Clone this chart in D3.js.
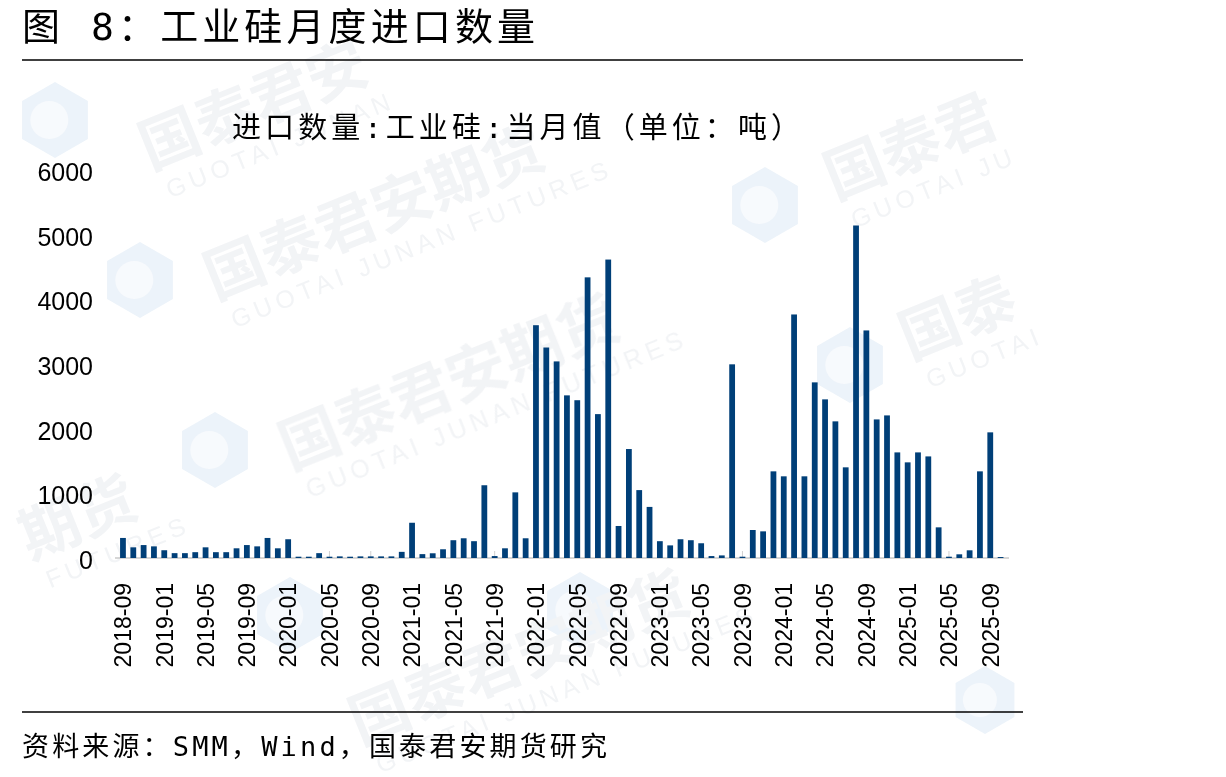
<!DOCTYPE html>
<html>
<head>
<meta charset="utf-8">
<script src="https://cdn.jsdelivr.net/npm/d3@7"></script>
<style>
  body { margin: 0; background: #fff; }
  svg { display: block; }
</style>
</head>
<body>
<svg></svg>
<script>
var W = 1226, H = 777;

// 月份（2018-09 ～ 2025-10）
var months = [
  "2018-09","2018-10","2018-11","2018-12",
  "2019-01","2019-02","2019-03","2019-04","2019-05","2019-06","2019-07","2019-08","2019-09","2019-10","2019-11","2019-12",
  "2020-01","2020-02","2020-03","2020-04","2020-05","2020-06","2020-07","2020-08","2020-09","2020-10","2020-11","2020-12",
  "2021-01","2021-02","2021-03","2021-04","2021-05","2021-06","2021-07","2021-08","2021-09","2021-10","2021-11","2021-12",
  "2022-01","2022-02","2022-03","2022-04","2022-05","2022-06","2022-07","2022-08","2022-09","2022-10","2022-11","2022-12",
  "2023-01","2023-02","2023-03","2023-04","2023-05","2023-06","2023-07","2023-08","2023-09","2023-10","2023-11","2023-12",
  "2024-01","2024-02","2024-03","2024-04","2024-05","2024-06","2024-07","2024-08","2024-09","2024-10","2024-11","2024-12",
  "2025-01","2025-02","2025-03","2025-04","2025-05","2025-06","2025-07","2025-08","2025-09","2025-10"
];

// 进口数量：工业硅：当月值（吨）
var imports = [
  310, 165, 200, 180,
  120, 75, 75, 90, 165, 90, 90, 150, 200, 180, 310, 150,
  290, 20, 20, 75, 20, 25, 20, 25, 25, 25, 25, 95,
  545, 60, 73, 135, 275, 305, 260, 1125, 30, 150, 1015, 305,
  3600, 3255, 3040, 2515, 2440, 4340, 2225, 4615, 495, 1685, 1050, 790,
  260, 195, 290, 275, 228, 30, 40, 2995, 20, 433, 412, 1340,
  1263, 3766, 1263, 2716, 2453, 2113, 1402, 5142, 3519, 2143, 2205, 1633,
  1479, 1633, 1571, 474, 20, 57, 119, 1340, 1943, 15
];

var yTicks = [0, 1000, 2000, 3000, 4000, 5000, 6000];

var titleText = "图 8：工业硅月度进口数量";
var chartTitle = "进口数量:工业硅:当月值（单位：吨）";
var sourceText = "资料来源：SMM，Wind，国泰君安期货研究";

var svg = d3.select("svg")
    .attr("width", W)
    .attr("height", H);

svg.append("rect").attr("width", W).attr("height", H).attr("fill", "#fff");

//////////////
// 水印（很淡）
//////////////
var wm = svg.append("g").attr("class", "watermark").attr("opacity", 0.75);

function hexLogo(cx, cy, r) {
  var pts = d3.range(6).map(function(k) {
    var a = Math.PI / 3 * k + Math.PI / 6;
    return [cx + r * Math.cos(a), cy + r * Math.sin(a)];
  });
  wm.append("path")
      .attr("d", d3.line()(pts) + "Z")
      .attr("fill", "#e6eff8");
  wm.append("circle")
      .attr("cx", cx - r * 0.15).attr("cy", cy)
      .attr("r", r * 0.5)
      .attr("fill", "#f5f8fc");
}

function wmText(x, y, cn, en) {
  var g = wm.append("g")
      .attr("transform", "translate(" + x + "," + y + ") rotate(-22)");
  g.append("text")
      .attr("font-family", "Noto Sans CJK SC")
      .attr("font-size", 60)
      .attr("font-weight", 700)
      .attr("fill", "#eef0f3")
      .text(cn);
  g.append("text")
      .attr("y", 34)
      .attr("x", 8)
      .attr("font-family", "Liberation Sans, Arial")
      .attr("font-size", 25)
      .attr("letter-spacing", 5)
      .attr("fill", "#eef0f3")
      .text(en);
}

hexLogo(55, 120, 38);
hexLogo(140, 280, 38);
hexLogo(215, 450, 38);
hexLogo(290, 615, 38);
hexLogo(765, 205, 38);
hexLogo(850, 365, 38);
hexLogo(580, 610, 38);
hexLogo(985, 700, 34);

wmText(150, 170, "国泰君安", "GUOTAI JUNAN");
wmText(215, 300, "国泰君安期货", "GUOTAI JUNAN FUTURES");
wmText(290, 470, "国泰君安期货", "GUOTAI JUNAN FUTURES");
wmText(835, 200, "国泰君", "GUOTAI JU");
wmText(910, 360, "国泰", "GUOTAI");
wmText(30, 560, "期货", "FUTURES");
wmText(360, 745, "国泰君安期货", "GUOTAI JUNAN FUTURES");

//////////////
// 标题
//////////////
var cjk = "DejaVu Sans Mono, Noto Sans CJK SC, sans-serif";

svg.append("text")
    .attr("x", 22).attr("y", 40)
    .attr("font-family", cjk)
    .attr("font-size", 38)
    .attr("textLength", 513)
    .attr("lengthAdjust", "spacing")
    .attr("fill", "#000")
    .text(titleText);

svg.append("line")
    .attr("x1", 22).attr("x2", 1023)
    .attr("y1", 60).attr("y2", 60)
    .attr("stroke", "#000").attr("stroke-width", 1.5);

svg.append("line")
    .attr("x1", 22).attr("x2", 1023)
    .attr("y1", 712).attr("y2", 712)
    .attr("stroke", "#000").attr("stroke-width", 1.5);

svg.append("text")
    .attr("x", 232).attr("y", 138)
    .attr("font-family", cjk)
    .attr("font-size", 29)
    .attr("textLength", 568)
    .attr("lengthAdjust", "spacing")
    .attr("fill", "#000")
    .text(chartTitle);

svg.append("text")
    .attr("x", 22).attr("y", 756)
    .attr("font-family", cjk)
    .attr("font-size", 27)
    .attr("textLength", 585)
    .attr("lengthAdjust", "spacing")
    .attr("fill", "#000")
    .text(sourceText);

//////////////
// 柱状图
//////////////
var x = d3.scaleBand()
    .domain(months)
    .range([117.8, 117.8 + months.length * 10.325])
    .paddingInner(0.44)
    .paddingOuter(0.22);

var y = d3.scaleLinear()
    .domain([0, 6000])
    .range([558, 170]);

var plot = svg.append("g");

// x轴（基线 + 内向刻度）
var xAxis = plot.append("g")
    .attr("transform", "translate(0," + y(0) + ")")
    .call(d3.axisBottom(x)
      .tickValues(months.filter(function(d, i) { return i % 4 === 0; }))
      .tickSizeInner(-7)
      .tickSizeOuter(0));

xAxis.select(".domain")
    .attr("d", "M115,0H1009")
    .attr("stroke", "#c8c8c8")
    .attr("stroke-width", 1.5);
xAxis.selectAll(".tick line").attr("stroke", "#d0d0d0");
xAxis.selectAll(".tick text")
    .attr("transform", "rotate(-90)")
    .attr("x", -25)
    .attr("y", 0)
    .attr("dy", "0.36em")
    .attr("text-anchor", "end")
    .attr("font-family", "Liberation Sans, Arial, sans-serif")
    .attr("font-size", 23)
    .attr("fill", "#000");

plot.selectAll(".bar")
    .data(months)
    .enter().append("rect")
    .attr("class", "bar")
    .attr("x", function(d) { return x(d); })
    .attr("width", x.bandwidth())
    .attr("y", function(d, i) { return y(imports[i]); })
    .attr("height", function(d, i) { return y(0) - y(imports[i]); })
    .attr("fill", "#003f78");

// y轴
var yAxis = plot.append("g")
    .attr("transform", "translate(100,0)")
    .call(d3.axisLeft(y).tickValues(yTicks).tickFormat(d3.format("d")).tickSize(0).tickPadding(7));

yAxis.select(".domain").remove();
yAxis.selectAll(".tick text")
    .attr("dy", "0.42em")
    .attr("font-family", "Liberation Sans, Arial, sans-serif")
    .attr("font-size", 25)
    .attr("fill", "#000");
</script>
</body>
</html>
